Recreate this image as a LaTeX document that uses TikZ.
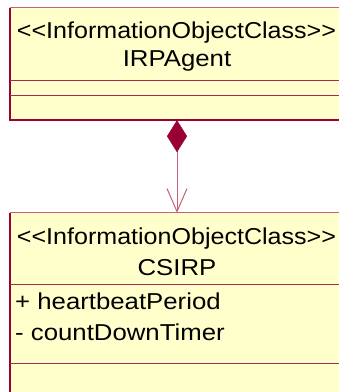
\documentclass[tikz,border=0pt]{standalone}
\usepackage{fontspec}
\setmainfont{Liberation Sans}
\usetikzlibrary{arrows.meta}
\definecolor{umlred}{HTML}{990033}
\definecolor{umlpink}{HTML}{C8607A}
\definecolor{umlfill}{HTML}{FFFFCC}
\tikzset{
  classbox/.style={rectangle, fill=umlfill, draw=none, inner sep=0pt, minimum width=334pt},
  lbl/.style={anchor=base, inner sep=0pt, font=\fontsize{23}{27}\selectfont},
  attr/.style={anchor=base west, inner sep=0pt, font=\fontsize{23}{27}\selectfont},
  darkedge/.style={draw=umlred, line width=1.6pt},
  lightedge/.style={draw=umlpink, line width=1.2pt},
  divider/.style={draw=umlred!85!white, line width=1pt},
  conn/.style={draw=umlpink, line width=1pt,
    arrows={Diamond[length=32pt, width=20pt, fill=umlred, color=umlred, line width=0.5pt]-Straight Barb[length=23pt, width=20pt, color=umlpink, line width=1pt]}}
}
\newcommand{\sx}[1]{\scalebox{1.12}[1]{#1}}
\newcommand{\sxs}[1]{\scalebox{1.09}[1]{#1}}
\begin{document}
\begin{tikzpicture}[x=1pt, y=-1pt]
\useasboundingbox (0,0) rectangle (339,392);
\fill[white] (0,0) rectangle (339,392);
\clip (0,0) rectangle (339,392);
% top class
\node[classbox, minimum height=112pt] (agent) at (177,64) {};
\draw[lightedge] (agent.north west) -- (agent.north east);
\draw[lightedge] (agent.north east) -- (agent.south east);
\draw[darkedge] (agent.north west) -- (agent.south west) -- (agent.south east);
\draw[divider] (10,80) -- (344,80);
\draw[divider] (10,95) -- (344,95);
\node[lbl] (agentst) at (176.5,38) {\sxs{<{}<{}InformationObjectClass>{}>}};
\node[lbl] (agentnm) at (177,66.5) {\sx{IRPAgent}};
% lower class
\node[classbox, minimum height=190pt] (csirp) at (177,308) {};
\draw[lightedge] (csirp.north west) -- (csirp.north east);
\draw[lightedge] (csirp.north east) -- (csirp.south east);
\draw[darkedge] (csirp.north west) -- (csirp.south west) -- (csirp.south east);
\draw[divider] (10,284) -- (344,284);
\draw[divider] (10,363) -- (344,363);
\node[lbl] (csst) at (176.5,244) {\sxs{<{}<{}InformationObjectClass>{}>}};
\node[lbl] (csnm) at (177,275) {\sx{CSIRP}};
\node[attr] (a1) at (15,309) {\sx{+ heartbeatPeriod}};
\node[attr] (a2) at (15,340) {\sx{- countDownTimer}};
% composition
\draw[conn] (agent.south) -- (csirp.north);
\end{tikzpicture}
\end{document}
